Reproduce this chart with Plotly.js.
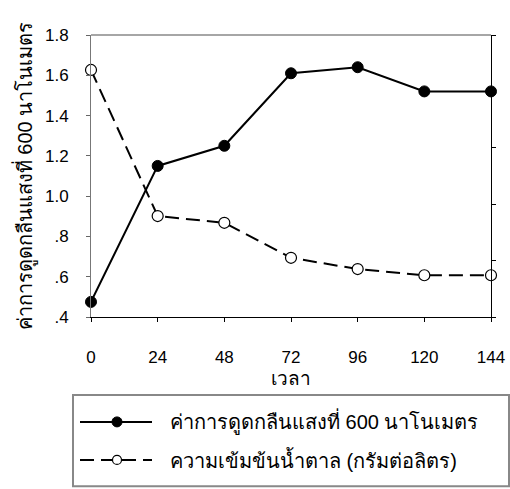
<!DOCTYPE html>
<html><head><meta charset="utf-8">
<script src="https://cdn.plot.ly/plotly-3.0.1.min.js"></script>
<style>body{margin:0;background:#fff}#c{width:510px;height:489px}</style>
</head><body><div id="c"></div>
<script>
const hours = [0, 24, 48, 72, 96, 120, 144];
const absorbance = [0.475, 1.15, 1.25, 1.61, 1.64, 1.52, 1.52];
const sugar = [43.8, 17.9, 16.7, 10.5, 8.5, 7.4, 7.4];
const yTickVals = [0.4, 0.6, 0.8, 1.0, 1.2, 1.4, 1.6, 1.8];
const yTickText = ['.4', '.6', '.8', '1.0', '1.2', '1.4', '1.6', '1.8'];
const xTickVals = [0, 24, 48, 72, 96, 120, 144];
const name1 = 'ค่าการดูดกลืนแสงที่ 600 นาโนเมตร';
const name2 = 'ความเข้มข้นน้ำตาล (กรัมต่อลิตร)';
const xTitle = 'เวลา';
const yTitle = 'ค่าการดูดกลืนแสงที่ 600 นาโนเมตร';

const FONT = '"Liberation Sans", Arial, "DejaVu Sans", sans-serif';

const traces = [
  {x: hours, y: absorbance, name: name1, mode: 'lines+markers', yaxis: 'y', cliponaxis: false,
   line: {color: '#000', width: 2}, marker: {size: 11, color: '#000', line: {color: '#000', width: 1}}},
  {x: hours, y: sugar, name: name2, mode: 'lines+markers', yaxis: 'y2', cliponaxis: false,
   line: {color: '#000', width: 2, dash: '14px,7px'}, marker: {size: 11, color: '#fff', line: {color: '#000', width: 1.2}}}
];

// legend geometry in paper coords
const lx0 = -0.0275, lx1 = 0.1525, lmx = 0.065, ly1 = -0.372, ly2 = -0.507;

const layout = {
  width: 510, height: 489,
  margin: {l: 91, r: 19, t: 35, b: 172},
  paper_bgcolor: '#fff', plot_bgcolor: '#fff',
  font: {family: FONT, size: 17, color: '#000'},
  showlegend: false,
  xaxis: {range: [0, 144], tickvals: xTickVals, ticks: 'outside', ticklen: 4, tickcolor: '#000',
          showline: true, linecolor: '#000', linewidth: 1, showgrid: false, zeroline: false,
          ticklabelstandoff: 21, tickfont: {size: 17},
          title: {text: xTitle, font: {size: 19}, standoff: 5}},
  yaxis: {range: [0.4, 1.8], tickvals: yTickVals, ticktext: yTickText, ticks: 'outside', ticklen: 4,
          tickcolor: '#666', showline: true, linecolor: '#777', linewidth: 1, showgrid: false, zeroline: false,
          ticklabelstandoff: 14, tickfont: {size: 17},
          title: {text: yTitle, font: {size: 20}, standoff: 6}},
  yaxis2: {range: [0, 50], dtick: 10, overlaying: 'y', side: 'right', ticks: 'outside', ticklen: 4,
           tickcolor: '#000', showline: true, linecolor: '#000', linewidth: 1, showgrid: false, zeroline: false,
           showticklabels: false},
  shapes: [
    {type: 'line', xref: 'paper', yref: 'paper', x0: 0, x1: 1, y0: 1, y1: 1, line: {color: '#888', width: 1.5}},
    {type: 'rect', xref: 'paper', yref: 'paper', x0: -0.045, x1: 1.045, y0: -0.6, y1: -0.2766,
     line: {color: '#888', width: 2}},
    {type: 'line', xref: 'paper', yref: 'paper', x0: lx0, x1: lx1, y0: ly1, y1: ly1, line: {color: '#000', width: 2}},
    {type: 'circle', xref: 'paper', yref: 'paper', xsizemode: 'pixel', ysizemode: 'pixel',
     xanchor: lmx, yanchor: ly1, x0: -5, x1: 5, y0: -5, y1: 5, fillcolor: '#000', line: {color: '#000', width: 1}},
    {type: 'line', xref: 'paper', yref: 'paper', x0: lx0, x1: lx1, y0: ly2, y1: ly2, line: {color: '#000', width: 2, dash: '14px,7px'}},
    {type: 'circle', xref: 'paper', yref: 'paper', xsizemode: 'pixel', ysizemode: 'pixel',
     xanchor: lmx, yanchor: ly2, x0: -4.5, x1: 4.5, y0: -4.5, y1: 4.5, fillcolor: '#fff', line: {color: '#000', width: 1.2}}
  ],
  annotations: [
    {text: name1, xref: 'paper', yref: 'paper', x: 0.1925, y: ly1, xanchor: 'left', yanchor: 'middle', showarrow: false, font: {size: 20}},
    {text: name2, xref: 'paper', yref: 'paper', x: 0.1925, y: ly2, xanchor: 'left', yanchor: 'middle', showarrow: false, font: {size: 20}}
  ]
};

Plotly.newPlot('c', traces, layout, {displayModeBar: false, staticPlot: true});
</script></body></html>
